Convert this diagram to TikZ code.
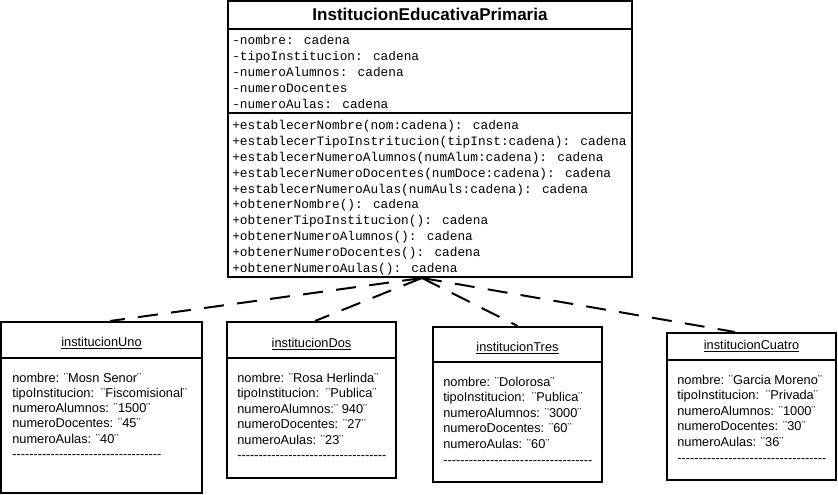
\documentclass[tikz,border=0pt]{standalone}
\usepackage{fontspec}
\setmainfont{Liberation Sans}
\newfontfamily\monof{Liberation Mono}
\usetikzlibrary{calc}
\tikzset{
  box/.style={draw, line width=1.5pt, inner sep=0pt, fill=white},
  sep/.style={line width=1.5pt},
  mono/.style={font=\monof\fontsize{9.6}{12}\selectfont, anchor=base west, inner sep=0pt},
  body/.style={font=\fontsize{9.6}{12}\selectfont, anchor=base west, inner sep=0pt},
  ttl/.style={font=\fontsize{9.6}{12}\selectfont, anchor=base, inner sep=0pt},
  dep/.style={line width=1.5pt, dash pattern=on 15pt off 10pt}
}
\begin{document}
\begin{tikzpicture}[x=0.75pt, y=-0.75pt]
\useasboundingbox (0,0) rectangle (838,495);
% main class
\node[box, minimum width=303pt, minimum height=207pt] (main) at (430,139) {};
\draw[sep] (main.west |- 0,29) -- (main.east |- 0,29);
\draw[sep] (main.west |- 0,113) -- (main.east |- 0,113);
\node[font=\bfseries\fontsize{12.8}{15}\selectfont, anchor=base, inner sep=0pt] (mtitle) at (430,21) {InstitucionEducativaPrimaria};
\foreach \t [count=\i] in {-nombre: cadena, -tipoInstitucion: cadena, -numeroAlumnos: cadena, -numeroDocentes, -numeroAulas: cadena}
  \node[mono] (attr\i) at (232,{45+16*(\i-1)}) {\t};
\foreach \t [count=\i] in {+establecerNombre(nom:cadena): cadena,
  +establecerTipoInstritucion(tipInst:cadena): cadena,
  +establecerNumeroAlumnos(numAlum:cadena): cadena,
  +establecerNumeroDocentes(numDoce:cadena): cadena,
  +establecerNumeroAulas(numAuls:cadena): cadena,
  +obtenerNombre(): cadena,
  +obtenerTipoInstitucion(): cadena,
  +obtenerNumeroAlumnos(): cadena,
  +obtenerNumeroDocentes(): cadena,
  +obtenerNumeroAulas(): cadena}
  \node[mono] (meth\i) at (232,{129.5+15.9*(\i-1)}) {\t};
\coordinate (hub) at ([xshift=-6pt]main.south);
% object boxes
\node[box, minimum width=150.75pt, minimum height=128.25pt] (uno) at (101.5,407.5) {};
\node[box, minimum width=126.75pt, minimum height=117pt] (dos) at (311.5,400) {};
\node[box, minimum width=126.75pt, minimum height=116.25pt] (tres) at (517.5,404.5) {};
\node[box, minimum width=126.75pt, minimum height=110.25pt] (cuatro) at (751.5,406.5) {};
\draw[sep] (uno.west |- 0,358) -- (uno.east |- 0,358);
\draw[sep] (dos.west |- 0,358) -- (dos.east |- 0,358);
\draw[sep] (tres.west |- 0,362) -- (tres.east |- 0,362);
\draw[sep] (cuatro.west |- 0,360) -- (cuatro.east |- 0,360);
\node[ttl] (unoT) at (101.5,346) {\underline{institucionUno}};
\node[ttl] (dosT) at (311.5,347) {\underline{institucionDos}};
\node[ttl] (tresT) at (517.5,351) {\underline{institucionTres}};
\node[ttl] (cuatroT) at (751.5,349) {\underline{institucionCuatro}};
\def\hy{-{}-{}-{}-{}-{}-{}-{}-{}-{}-{}-{}-{}-{}-{}-{}-{}-{}-{}-{}-{}-{}-{}-{}-{}-{}-{}-{}-{}-{}-{}-{}-{}-{}-{}-}
\foreach \t [count=\i] in {nombre: ¨Mosn Senor¨, tipoInstitucion:~~¨Fiscomisional¨, numeroAlumnos: ¨1500¨, numeroDocentes: ¨45¨, numeroAulas: ¨40¨, \hy}
  \node[body] (u\i) at (12,{382+15.3*(\i-1)}) {\t};
\foreach \t [count=\i] in {nombre: ¨Rosa Herlinda¨, tipoInstitucion:~~¨Publica¨, numeroAlumnos:¨~940¨, numeroDocentes: ¨27¨, numeroAulas: ¨23¨, \hy}
  \node[body] (d\i) at (237,{382+15.5*(\i-1)}) {\t};
\foreach \t [count=\i] in {nombre: ¨Dolorosa¨, tipoInstitucion:~~¨Publica¨, numeroAlumnos: ¨3000¨, numeroDocentes: ¨60¨, numeroAulas: ¨60¨, \hy}
  \node[body] (t\i) at (443,{386+15.6*(\i-1)}) {\t};
\foreach \t [count=\i] in {nombre: ¨Garcia Moreno¨, tipoInstitucion:~~¨Privada¨, numeroAlumnos: ¨1000¨, numeroDocentes: ¨30¨, numeroAulas: ¨36¨, \hy}
  \node[body] (c\i) at (677,{384+15.6*(\i-1)}) {\t};
% dependencies
\draw[dep] (hub) -- ([xshift=6.4pt]uno.north);
\draw[dep] (hub) -- ([xshift=2.6pt]dos.north);
\draw[dep] (hub) -- (tres.north);
\draw[dep] (hub) -- ([xshift=-12.4pt]cuatro.north);
\end{tikzpicture}
\end{document}
